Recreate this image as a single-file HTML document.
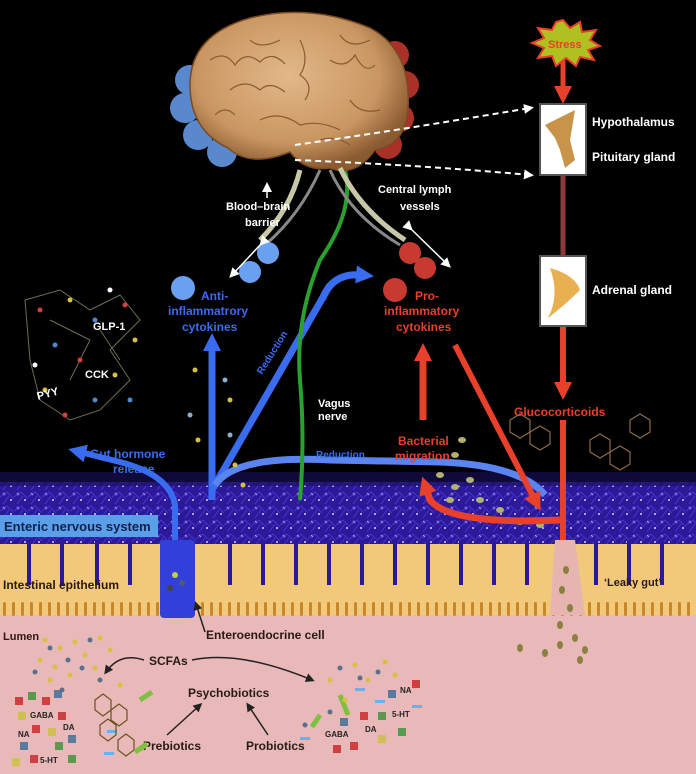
<!DOCTYPE html>
<html><head><meta charset="utf-8"><style>
html,body{margin:0;padding:0;background:#000}
svg{display:block}
text{font-family:"Liberation Sans",sans-serif;font-weight:bold}
</style></head><body>
<svg width="696" height="774" viewBox="0 0 696 774" xmlns="http://www.w3.org/2000/svg">
<defs>
<pattern id="vil" x="0" y="600" width="9" height="22" patternUnits="userSpaceOnUse">
<rect x="3" y="2" width="3" height="14" rx="1.5" fill="#c8882a"/>
</pattern>
<pattern id="ens" x="0" y="0" width="14" height="14" patternUnits="userSpaceOnUse">
<circle cx="4" cy="4" r="1.3" fill="#b8b0ff"/><circle cx="11" cy="10" r="1" fill="#d8d0ff"/>
<path d="M0 7 L7 2 L14 9 M3 14 L9 6" stroke="#5030d0" stroke-width="1" fill="none"/>
</pattern>
<radialGradient id="brain" cx="45%" cy="40%" r="60%"><stop offset="0" stop-color="#e2b888"/><stop offset="0.7" stop-color="#c99662"/><stop offset="1" stop-color="#8a5a30"/></radialGradient>
<marker id="aw" markerUnits="userSpaceOnUse" markerWidth="10" markerHeight="10" refX="6" refY="5" orient="auto"><path d="M0 0 L10 5 L0 10 z" fill="#fff"/></marker>
<marker id="ar" markerUnits="userSpaceOnUse" markerWidth="18" markerHeight="18" refX="6" refY="9" orient="auto"><path d="M0 0 L18 9 L0 18 z" fill="#e8402a"/></marker>
<marker id="ab" markerUnits="userSpaceOnUse" markerWidth="18" markerHeight="18" refX="6" refY="9" orient="auto"><path d="M0 0 L18 9 L0 18 z" fill="#3a6cf0"/></marker>
<marker id="ak" markerUnits="userSpaceOnUse" markerWidth="9" markerHeight="9" refX="6" refY="4.5" orient="auto"><path d="M0 0 L9 4.5 L0 9 z" fill="#222"/></marker>
</defs>
<rect width="696" height="774" fill="#000"/>
<rect y="612" width="696" height="162" fill="#e8b9b8"/>
<rect y="540" width="696" height="75" fill="#f2c97a"/>
<rect y="600" width="696" height="22" fill="url(#vil)"/>
<rect y="482" width="696" height="62" fill="#2a1a9a"/>
<rect y="482" width="696" height="62" fill="url(#ens)"/>
<rect y="472" width="696" height="14" fill="#1a1060" opacity="0.6"/>
<g fill="#2a1a9a">
<rect x="27" y="540" width="4" height="45"/><rect x="60" y="540" width="4" height="45"/><rect x="95" y="540" width="4" height="45"/><rect x="128" y="540" width="4" height="45"/>
<rect x="228" y="540" width="4" height="45"/><rect x="261" y="540" width="4" height="45"/><rect x="294" y="540" width="4" height="45"/><rect x="327" y="540" width="4" height="45"/>
<rect x="360" y="540" width="4" height="45"/><rect x="393" y="540" width="4" height="45"/><rect x="426" y="540" width="4" height="45"/><rect x="459" y="540" width="4" height="45"/><rect x="492" y="540" width="4" height="45"/><rect x="525" y="540" width="4" height="45"/>
<rect x="594" y="540" width="4" height="45"/><rect x="627" y="540" width="4" height="45"/><rect x="660" y="540" width="4" height="45"/>
</g>
<rect x="160" y="540" width="35" height="78" rx="4" fill="#3040d8"/>
<circle cx="175" cy="575" r="3" fill="#cc4"/><circle cx="182" cy="583" r="3" fill="#557"/><circle cx="170" cy="588" r="3" fill="#444"/>
<path d="M555 540 L575 540 L585 615 L550 615 Z" fill="#e6b5b0"/>
<rect x="0" y="515" width="158" height="22" fill="#5aa0e8"/>
<text x="4" y="531" font-size="13" fill="#102050" font-weight="normal">Enteric nervous system</text>
<text x="3" y="589" font-size="12" fill="#2a1a10">Intestinal epithelium</text>
<text x="604" y="586" font-size="11" fill="#2a1a10">‘Leaky gut’</text>
<text x="3" y="640" font-size="11" fill="#2a1a10">Lumen</text>
<text x="206" y="639" font-size="12" fill="#2a1a10">Enteroendocrine cell</text>
<line x1="205" y1="632" x2="196" y2="604" stroke="#222" stroke-width="1.5" marker-end="url(#ak)"/>
<text x="149" y="665" font-size="12" fill="#2a1a10">SCFAs</text>
<path d="M144 660 Q120 652 106 672" stroke="#222" stroke-width="1.5" fill="none" marker-end="url(#ak)"/>
<path d="M192 660 Q240 650 312 680" stroke="#222" stroke-width="1.5" fill="none" marker-end="url(#ak)"/>
<text x="188" y="697" font-size="12" fill="#2a1a10">Psychobiotics</text>
<text x="143" y="750" font-size="12" fill="#2a1a10">Prebiotics</text>
<text x="246" y="750" font-size="12" fill="#2a1a10">Probiotics</text>
<line x1="167" y1="735" x2="200" y2="705" stroke="#222" stroke-width="1.5" marker-end="url(#ak)"/>
<line x1="268" y1="735" x2="248" y2="705" stroke="#222" stroke-width="1.5" marker-end="url(#ak)"/>
<g>
<rect x="15" y="697" width="8" height="8" fill="#d04040"/><rect x="28" y="692" width="8" height="8" fill="#5a9a50"/><rect x="42" y="697" width="8" height="8" fill="#d04040"/><rect x="54" y="690" width="8" height="8" fill="#5a7aa0"/>
<rect x="18" y="712" width="8" height="8" fill="#d0c050"/><rect x="58" y="712" width="8" height="8" fill="#d04040"/><rect x="32" y="725" width="8" height="8" fill="#d04040"/><rect x="48" y="728" width="8" height="8" fill="#d0c050"/>
<rect x="20" y="742" width="8" height="8" fill="#5a7aa0"/><rect x="55" y="742" width="8" height="8" fill="#5a9a50"/><rect x="68" y="735" width="8" height="8" fill="#5a7aa0"/><rect x="30" y="755" width="8" height="8" fill="#d04040"/><rect x="12" y="758" width="8" height="8" fill="#d0c050"/><rect x="68" y="755" width="8" height="8" fill="#5a9a50"/>
<rect x="107" y="730" width="10" height="3" fill="#6ab0f0"/><rect x="104" y="752" width="10" height="3" fill="#6ab0f0"/>
</g>
<text x="30" y="718" font-size="8" fill="#222">GABA</text><text x="18" y="737" font-size="8" fill="#222">NA</text><text x="63" y="730" font-size="8" fill="#222">DA</text><text x="40" y="763" font-size="8" fill="#222">5-HT</text>
<g stroke="#6a5020" stroke-width="1.2" fill="none"><path d="M95 700 l8 -6 l8 6 l0 10 l-8 6 l-8 -6z M111 710 l8 -6 l8 6 l0 10 l-8 6 l-8 -6z M100 725 l8 -6 l8 6 l0 10 l-8 6 l-8 -6z M118 740 l8 -6 l8 6 l0 10 l-8 6 l-8 -6z"/></g>
<path d="M140 700 l12 -8" stroke="#80c040" stroke-width="5"/><path d="M135 752 l12 -8" stroke="#80c040" stroke-width="5"/>
<g transform="translate(0,0)">
<rect x="388" y="690" width="8" height="8" fill="#5a7aa0"/><rect x="412" y="680" width="8" height="8" fill="#d04040"/><rect x="360" y="712" width="8" height="8" fill="#d04040"/><rect x="378" y="712" width="8" height="8" fill="#5a9a50"/><rect x="398" y="728" width="8" height="8" fill="#5a9a50"/><rect x="333" y="745" width="8" height="8" fill="#d04040"/><rect x="350" y="742" width="8" height="8" fill="#d04040"/><rect x="378" y="735" width="8" height="8" fill="#d0c050"/><rect x="340" y="718" width="8" height="8" fill="#5a7aa0"/>
<rect x="355" y="688" width="10" height="3" fill="#6ab0f0"/><rect x="375" y="700" width="10" height="3" fill="#6ab0f0"/><rect x="412" y="705" width="10" height="3" fill="#6ab0f0"/><rect x="300" y="737" width="10" height="3" fill="#6ab0f0"/>
<path d="M340 695 l8 20" stroke="#80c040" stroke-width="5"/><path d="M320 715 l-8 12" stroke="#80c040" stroke-width="5"/>
</g>
<text x="400" y="693" font-size="8" fill="#222">NA</text><text x="392" y="717" font-size="8" fill="#222">5-HT</text><text x="325" y="737" font-size="8" fill="#222">GABA</text><text x="365" y="732" font-size="8" fill="#222">DA</text>
<g fill="#d8c040">
<circle cx="45" cy="640" r="2.5"/><circle cx="60" cy="648" r="2.5"/><circle cx="75" cy="642" r="2.5"/><circle cx="40" cy="660" r="2.5"/><circle cx="55" cy="667" r="2.5"/><circle cx="85" cy="655" r="2.5"/><circle cx="70" cy="675" r="2.5"/><circle cx="95" cy="668" r="2.5"/><circle cx="50" cy="680" r="2.5"/><circle cx="110" cy="650" r="2.5"/><circle cx="100" cy="638" r="2.5"/><circle cx="120" cy="685" r="2.5"/>
<circle cx="330" cy="680" r="2.5"/><circle cx="355" cy="665" r="2.5"/><circle cx="385" cy="662" r="2.5"/><circle cx="395" cy="675" r="2.5"/><circle cx="345" cy="700" r="2.5"/><circle cx="368" cy="680" r="2.5"/>
</g>
<g fill="#5a7090">
<circle cx="50" cy="648" r="2.5"/><circle cx="68" cy="660" r="2.5"/><circle cx="82" cy="668" r="2.5"/><circle cx="35" cy="672" r="2.5"/><circle cx="62" cy="690" r="2.5"/><circle cx="90" cy="640" r="2.5"/><circle cx="100" cy="680" r="2.5"/>
<circle cx="340" cy="668" r="2.5"/><circle cx="360" cy="678" r="2.5"/><circle cx="378" cy="672" r="2.5"/><circle cx="305" cy="725" r="2.5"/><circle cx="330" cy="712" r="2.5"/>
</g>
<g fill="#8a8040"><ellipse cx="560" cy="625" rx="3" ry="4"/><ellipse cx="575" cy="638" rx="3" ry="4"/><ellipse cx="585" cy="650" rx="3" ry="4"/><ellipse cx="560" cy="645" rx="3" ry="4"/><ellipse cx="580" cy="660" rx="3" ry="4"/><ellipse cx="570" cy="608" rx="3" ry="4"/><ellipse cx="562" cy="590" rx="3" ry="4"/><ellipse cx="566" cy="570" rx="3" ry="4"/><ellipse cx="545" cy="653" rx="3" ry="4"/><ellipse cx="520" cy="648" rx="3" ry="4"/></g>
<g fill="#b0b070"><ellipse cx="440" cy="475" rx="4" ry="3"/><ellipse cx="455" cy="487" rx="4" ry="3"/><ellipse cx="470" cy="480" rx="4" ry="3"/><ellipse cx="450" cy="500" rx="4" ry="3"/><ellipse cx="480" cy="500" rx="4" ry="3"/><ellipse cx="500" cy="510" rx="4" ry="3"/><ellipse cx="520" cy="522" rx="4" ry="3"/><ellipse cx="540" cy="525" rx="4" ry="3"/><ellipse cx="462" cy="440" rx="4" ry="3"/><ellipse cx="455" cy="455" rx="4" ry="3"/></g>
<g stroke="#8a8a6a" stroke-width="1" fill="none" opacity="0.8">
<path d="M25 300 L60 290 L90 310 L120 295 L140 320 L110 350 L130 380 L100 410 L70 420 L40 400 L30 360 Z M50 320 L90 340 L70 380 M100 330 L120 360"/>
</g>
<g>
<circle cx="40" cy="310" r="2.5" fill="#d04040"/><circle cx="70" cy="300" r="2.5" fill="#d8c040"/><circle cx="95" cy="320" r="2.5" fill="#4a8ad0"/><circle cx="125" cy="305" r="2.5" fill="#d04040"/><circle cx="135" cy="340" r="2.5" fill="#d8c040"/><circle cx="55" cy="345" r="2.5" fill="#4a8ad0"/><circle cx="80" cy="360" r="2.5" fill="#d04040"/><circle cx="115" cy="375" r="2.5" fill="#d8c040"/><circle cx="45" cy="390" r="2.5" fill="#d8c040"/><circle cx="95" cy="400" r="2.5" fill="#4a8ad0"/><circle cx="65" cy="415" r="2.5" fill="#d04040"/><circle cx="35" cy="365" r="2.5" fill="#fff"/><circle cx="110" cy="290" r="2.5" fill="#fff"/><circle cx="130" cy="400" r="2.5" fill="#4a8ad0"/>
</g>
<text x="93" y="330" font-size="11" fill="#fff">GLP-1</text>
<text x="85" y="378" font-size="11" fill="#fff">CCK</text>
<text x="38" y="400" font-size="11" fill="#fff" transform="rotate(-15 38 400)">PYY</text>
<g stroke="#8a6a4a" stroke-width="1.2" fill="none"><path d="M510 420 l10 -6 l10 6 l0 12 l-10 6 l-10 -6 z M530 432 l10 -6 l10 6 l0 12 l-10 6 l-10 -6z"/><path d="M590 440 l10 -6 l10 6 l0 12 l-10 6 l-10 -6 z M610 452 l10 -6 l10 6 l0 12 l-10 6 l-10 -6z M630 420 l10 -6 l10 6 l0 12 l-10 6 l-10 -6z"/></g>
<!-- Gut hormone arrow -->
<path d="M175 540 L175 505 Q170 475 120 462 L80 452" stroke="#3a6cf0" stroke-width="6" fill="none" marker-end="url(#ab)"/>
<text x="90" y="458" font-size="12" fill="#3a6cf0">Gut hormone</text>
<text x="113" y="473" font-size="12" fill="#3a6cf0">release</text>
<!-- Blue arrows -->
<path d="M212 500 L212 345" stroke="#3a6cf0" stroke-width="7" fill="none" marker-end="url(#ab)"/>
<path d="M212 490 L330 285" stroke="#3a6cf0" stroke-width="7" fill="none"/>
<path d="M322 300 Q332 272 362 275" stroke="#3a6cf0" stroke-width="7" fill="none" marker-end="url(#ab)"/>
<path d="M215 485 Q235 455 330 460 L440 462 Q520 465 545 495" stroke="#5a84f0" stroke-width="7" fill="none"/>
<text x="262" y="375" font-size="10" fill="#3a6cf0" transform="rotate(-58 262 375)">Reduction</text>
<text x="316" y="458" font-size="10" fill="#3a6cf0">Reduction</text>
<path d="M300 500 Q305 440 300 380 Q295 320 320 260 Q355 210 345 170" stroke="#2aa030" stroke-width="4" fill="none"/>
<text x="318" y="407" font-size="11" fill="#fff">Vagus</text>
<text x="318" y="420" font-size="11" fill="#fff">nerve</text>
<!-- red arrows -->
<path d="M423 420 L423 355" stroke="#e8402a" stroke-width="7" fill="none" marker-end="url(#ar)"/>
<path d="M455 345 L535 500" stroke="#e8402a" stroke-width="6" fill="none" marker-end="url(#ar)"/>
<path d="M560 520 Q450 525 430 500 L426 488" stroke="#e8402a" stroke-width="7" fill="none" marker-end="url(#ar)"/>
<path d="M563 60 L563 92" stroke="#e8402a" stroke-width="5" marker-end="url(#ar)"/>
<path d="M563 175 L563 258" stroke="#8a3a3a" stroke-width="5"/>
<path d="M563 325 L563 388" stroke="#e8402a" stroke-width="6" marker-end="url(#ar)"/>
<path d="M563 420 L563 540" stroke="#e8402a" stroke-width="6"/>
<text x="398" y="445" font-size="12" fill="#e8402a">Bacterial</text>
<text x="395" y="460" font-size="12" fill="#e8402a">migration</text>
<text x="514" y="416" font-size="12" fill="#e8402a">Glucocorticoids</text>
<polygon points="563,20 570,28 580,22 582,32 596,30 590,40 600,46 588,50 594,60 580,57 576,66 566,58 556,66 552,56 538,58 544,48 532,43 544,38 538,28 552,30 556,22" fill="#b0c020" stroke="#e8402a" stroke-width="2"/>
<text x="548" y="48" font-size="11" fill="#e8402a">Stress</text>
<rect x="540" y="104" width="46" height="71" fill="#fff" stroke="#555" stroke-width="2"/>
<path d="M545 125 L575 110 L570 140 L575 160 L565 168 L560 150 L555 138 Z" fill="#c8944a"/>
<rect x="540" y="256" width="46" height="70" fill="#fff" stroke="#555" stroke-width="2"/>
<path d="M550 268 Q575 275 580 290 Q565 305 548 318 Q560 295 550 268 Z" fill="#e8b050"/>
<text x="592" y="126" font-size="12" fill="#fff">Hypothalamus</text>
<text x="592" y="161" font-size="12" fill="#fff">Pituitary gland</text>
<text x="592" y="294" font-size="12" fill="#fff">Adrenal gland</text>
<g fill="#6aa0f0" opacity="0.85"><circle cx="190" cy="80" r="15"/><circle cx="185" cy="108" r="15"/><circle cx="198" cy="135" r="15"/><circle cx="222" cy="152" r="15"/></g>
<g fill="#c83a30" opacity="0.85"><circle cx="395" cy="55" r="14"/><circle cx="405" cy="85" r="14"/><circle cx="400" cy="118" r="14"/><circle cx="388" cy="145" r="14"/></g>
<path d="M190 85 Q190 35 250 18 Q310 3 370 28 Q412 50 408 110 Q405 145 375 150 Q355 178 330 168 Q305 172 290 152 Q250 168 228 148 Q190 130 190 85 Z" fill="url(#brain)" stroke="#7a4a20" stroke-width="1.5"/>
<g stroke="#8a5a30" stroke-width="1.2" fill="none">
<path d="M210 60 q15 -10 25 5 q10 -15 25 -3 q12 -12 25 2 M230 90 q15 -12 30 0 q10 -10 25 2 M300 40 q10 20 0 35 q15 10 5 25 M330 60 q15 10 25 -5 q10 20 20 10 M260 120 q20 -10 40 5 q20 -5 40 5 M350 100 q10 15 30 10 M215 115 q10 -10 20 0 M320 140 q15 -5 30 5 M250 40 q10 10 30 0 M340 35 q10 15 30 5"/>
</g>
<path d="M300 170 Q290 210 260 240" stroke="#c8c8a8" stroke-width="5" fill="none"/>
<path d="M320 170 Q300 215 265 245" stroke="#888" stroke-width="3" fill="none"/>
<path d="M340 168 Q360 210 405 240" stroke="#c8c8a8" stroke-width="5" fill="none"/>
<path d="M330 170 Q350 215 400 245" stroke="#888" stroke-width="3" fill="none"/>
<g fill="#6aa0f0"><circle cx="268" cy="253" r="11"/><circle cx="250" cy="272" r="11"/><circle cx="183" cy="288" r="12"/></g>
<g fill="#c83a30"><circle cx="410" cy="253" r="11"/><circle cx="425" cy="268" r="11"/><circle cx="395" cy="290" r="12"/></g>
<line x1="262" y1="243" x2="232" y2="275" stroke="#fff" stroke-width="1.5" marker-start="url(#aw)" marker-end="url(#aw)"/>
<line x1="410" y1="228" x2="448" y2="265" stroke="#fff" stroke-width="1.5" marker-start="url(#aw)" marker-end="url(#aw)"/>
<line x1="267" y1="198" x2="267" y2="186" stroke="#fff" stroke-width="1.5" marker-end="url(#aw)"/>
<text x="226" y="210" font-size="11" fill="#fff">Blood–brain</text>
<text x="245" y="226" font-size="11" fill="#fff">barrier</text>
<text x="378" y="193" font-size="11" fill="#fff">Central lymph</text>
<text x="400" y="210" font-size="11" fill="#fff">vessels</text>
<text x="201" y="300" font-size="12" fill="#3a6cf0">Anti-</text>
<text x="168" y="315" font-size="12" fill="#3a6cf0">inflammatrory</text>
<text x="182" y="331" font-size="12" fill="#3a6cf0">cytokines</text>
<text x="415" y="300" font-size="12" fill="#e8402a">Pro-</text>
<text x="384" y="315" font-size="12" fill="#e8402a">inflammatory</text>
<text x="396" y="331" font-size="12" fill="#e8402a">cytokines</text>
<path d="M295 145 Q400 130 530 108" stroke="#fff" stroke-width="2" stroke-dasharray="6 4" fill="none" marker-end="url(#aw)"/>
<path d="M295 160 Q420 165 530 175" stroke="#fff" stroke-width="2" stroke-dasharray="6 4" fill="none" marker-end="url(#aw)"/>
<g fill="#d8c040"><circle cx="195" cy="370" r="2.5"/><circle cx="230" cy="400" r="2.5"/><circle cx="198" cy="440" r="2.5"/><circle cx="235" cy="465" r="2.5"/><circle cx="243" cy="485" r="2.5"/></g>
<g fill="#8ab0d0"><circle cx="225" cy="380" r="2.5"/><circle cx="190" cy="415" r="2.5"/><circle cx="230" cy="435" r="2.5"/></g>
</svg>
</body></html>
